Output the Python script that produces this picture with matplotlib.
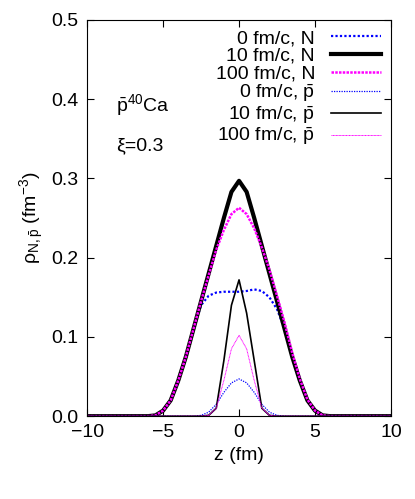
import numpy as np
import matplotlib.pyplot as plt

plt.rcParams['font.family'] = ['Liberation Sans', 'DejaVu Sans']
plt.rcParams['mathtext.fontset'] = 'custom'
plt.rcParams['mathtext.rm'] = 'Liberation Sans'
plt.rcParams['mathtext.it'] = 'Liberation Sans:italic'

z = np.arange(-10, 10.01, 0.5)

# values on z = -6 .. 6 step 0.5 (zero elsewhere)
zc = np.arange(-6, 6.01, 0.5)
n0 = [0, 0.001, 0.007, 0.02, 0.045, 0.075, 0.11, 0.14, 0.152, 0.156, 0.157, 0.157, 0.157,
      0.158, 0.16, 0.158, 0.15, 0.135, 0.11, 0.077, 0.047, 0.021, 0.007, 0.001, 0]
n10 = [0, 0.001, 0.007, 0.02, 0.045, 0.075, 0.11, 0.145, 0.18, 0.215, 0.25, 0.283, 0.297,
       0.283, 0.25, 0.215, 0.18, 0.145, 0.11, 0.075, 0.045, 0.02, 0.007, 0.001, 0]
n100 = [0, 0.001, 0.007, 0.02, 0.045, 0.075, 0.11, 0.145, 0.178, 0.21, 0.235, 0.255, 0.263,
        0.255, 0.237, 0.213, 0.185, 0.152, 0.118, 0.08, 0.047, 0.021, 0.007, 0.001, 0]
p0 = [0]*7 + [0.001, 0.005, 0.015, 0.03, 0.042, 0.047, 0.042, 0.03, 0.015, 0.005, 0.001] + [0]*7
p10 = [0]*7 + [0, 0.001, 0.01, 0.07, 0.14, 0.172, 0.13, 0.07, 0.01, 0.001, 0] + [0]*7
p100 = [0]*7 + [0, 0.001, 0.01, 0.045, 0.085, 0.102, 0.085, 0.045, 0.01, 0.001, 0] + [0]*7

def full(v):
    out = np.zeros_like(z)
    idx = np.searchsorted(z, zc)
    out[idx] = v
    return out

fig = plt.figure(figsize=(4.15, 4.99), dpi=100)
ax = fig.add_axes([0.21, 0.166, 0.732, 0.794])
fs = 14
pb = '$\\bar{\\rm p}$'
ax.plot(z, full(n0), color='#0000ff', lw=1.6, ls=(0, (1, 1)), label='0 fm/c, N')
ax.plot(z, full(n10), color='black', lw=3, label='10 fm/c, N')
ax.plot(z, full(n100), color='#ff00ff', lw=1.8, ls=(0, (1, 0.5)), label='100 fm/c, N')
ax.plot(z, full(p0), color='#0000ff', lw=0.9, ls=(0, (1, 1)), label='0 fm/c, ' + pb)
ax.plot(z, full(p10), color='black', lw=1.2, label='10 fm/c, ' + pb)
ax.plot(z, full(p100), color='#ff00ff', lw=0.7, ls=(0, (1, 0.5)), label='100 fm/c, ' + pb)

ax.set_xlim(-10, 10)
ax.set_ylim(0, 0.5)
ax.set_xticks([-10, -5, 0, 5, 10])
ax.set_yticks([0, 0.1, 0.2, 0.3, 0.4, 0.5])
ax.set_yticklabels(['0.0', '0.1', '0.2', '0.3', '0.4', '0.5'])
ax.tick_params(direction='in', top=True, right=True, labelsize=fs, length=5, pad=6)
ax.set_xlabel('z (fm)', fontsize=fs)
ax.set_ylabel('\u03c1$_{\\rm N,\\bar{p}}$ (fm$^{-3}$)', fontsize=fs)
ax.text(-8.1, 0.385, pb + '$^{40}$Ca', fontsize=fs)
ax.text(-8.1, 0.335, '\u03be=0.3', fontsize=fs)
leg = ax.legend(loc='upper right', frameon=False, fontsize=fs, markerfirst=False,
                handlelength=2.6, labelspacing=0.0, borderaxespad=0.1, handletextpad=0.8)
fig.savefig('out.png', dpi=100)
